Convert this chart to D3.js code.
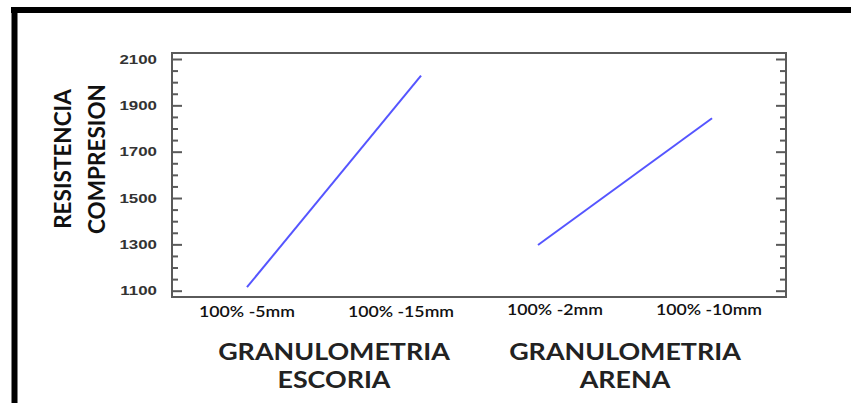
<!DOCTYPE html>
<html>
<head>
  <meta charset="utf-8">
  <script src="https://d3js.org/d3.v7.min.js"></script>
  <style>
    body { margin: 0; background: #fff; }
    svg { display: block; }
  </style>
</head>
<body>
  <svg id="chart"></svg>
  <script>
    // data
    var panels = ["ESCORIA", "ARENA"];
    var levels = ["100% -5mm", "100% -15mm", "100% -2mm", "100% -10mm"];
    var levelPanel = ["ESCORIA", "ESCORIA", "ARENA", "ARENA"];
    var resistencia = [1115, 2028, 1297, 1844];
    var yTicks = [1100, 1300, 1500, 1700, 1900, 2100];
    var yMinorStep = 50;

    var width = 851, height = 403;
    var frame = { left: 172, right: 786, top: 53, bottom: 297 };

    var svg = d3.select("#chart")
      .attr("width", width)
      .attr("height", height);

    // the source picture is stretched sideways, so widen the text to match
    function widen(sel, k) {
      sel.each(function() {
        var w = this.getComputedTextLength();
        d3.select(this)
          .attr("textLength", w * k)
          .attr("lengthAdjust", "spacingAndGlyphs");
      });
    }

    // outer black border (top and left only visible)
    svg.append("line")
      .attr("x1", 11).attr("x2", width + 5)
      .attr("y1", 10).attr("y2", 10)
      .attr("stroke", "#000").attr("stroke-width", 6);
    svg.append("line")
      .attr("x1", 14.5).attr("x2", 14.5)
      .attr("y1", 7).attr("y2", height + 5)
      .attr("stroke", "#000").attr("stroke-width", 6);

    var y = d3.scaleLinear()
      .domain([1100, 2100])
      .range([290.7, 59]);

    var xPanel = d3.scaleBand()
      .domain(panels)
      .range([188.5, 770.5]);

    var xLevel = d3.scalePoint()
      .domain([0, 1])
      .range([0, xPanel.bandwidth()])
      .padding(0.336);

    var xLabel = d3.scalePoint()
      .domain(levels)
      .range([247, 709]);

    // plot frame
    svg.append("rect")
      .attr("x", frame.left)
      .attr("y", frame.top)
      .attr("width", frame.right - frame.left)
      .attr("height", frame.bottom - frame.top)
      .attr("fill", "none")
      .attr("stroke", "#5a5a5a")
      .attr("stroke-width", 2);

    // inward ticks on left and right
    var minor = d3.range(1100, 2100 + 1, yMinorStep).filter(function(v) { return yTicks.indexOf(v) < 0; });
    var leftAxis = d3.axisRight(y).tickValues(yTicks).tickSize(10).tickFormat("");
    var leftMinor = d3.axisRight(y).tickValues(minor).tickSize(6).tickFormat("");
    var rightAxis = d3.axisLeft(y).tickValues(yTicks).tickSize(10).tickFormat("");
    var rightMinor = d3.axisLeft(y).tickValues(minor).tickSize(6).tickFormat("");

    [[leftAxis, frame.left], [leftMinor, frame.left], [rightAxis, frame.right], [rightMinor, frame.right]].forEach(function(a) {
      var g = svg.append("g")
        .attr("transform", "translate(" + a[1] + ",0)")
        .call(a[0]);
      g.select(".domain").remove();
      g.selectAll("line").attr("stroke", "#5a5a5a").attr("stroke-width", 2);
    });

    // y tick labels
    svg.append("g")
      .selectAll("text")
      .data(yTicks)
      .enter()
      .append("text")
      .attr("x", 157)
      .attr("y", function(d) { return y(d); })
      .attr("dy", "0.35em")
      .attr("text-anchor", "end")
      .style("font-family", "'Liberation Sans', Arial, sans-serif")
      .style("font-size", "13px")
      .style("font-weight", "bold")
      .attr("fill", "#333")
      .text(function(d) { return d; })
      .call(widen, 1.3);

    // lines per panel
    panels.forEach(function(p) {
      var vals = [];
      levels.forEach(function(l, i) { if (levelPanel[i] === p) vals.push(resistencia[i]); });
      var line = d3.line()
        .x(function(d, i) { return xPanel(p) + xLevel(i); })
        .y(function(d) { return y(d); });
      svg.append("path")
        .datum(vals)
        .attr("d", line)
        .attr("fill", "none")
        .attr("stroke", "#5555ff")
        .attr("stroke-width", 2);
    });

    // x level labels
    svg.append("g")
      .selectAll("text")
      .data(levels)
      .enter()
      .append("text")
      .attr("x", function(d) { return xLabel(d); })
      .attr("y", function(d, i) { return i < 2 ? 312 : 310; })
      .attr("dy", "0.35em")
      .attr("text-anchor", "middle")
      .style("font-family", "Lato, 'Open Sans', sans-serif")
      .style("font-size", "15px")
      .style("font-weight", "600")
      .attr("fill", "#111")
      .text(function(d) { return d; })
      .call(widen, 1.18);

    // panel titles
    panels.forEach(function(p) {
      var cx = xPanel(p) + xPanel.bandwidth() / 2;
      [["GRANULOMETRIA", 352], [p, 380]].forEach(function(t) {
        svg.append("text")
          .attr("x", cx)
          .attr("y", t[1])
          .attr("dy", "0.35em")
          .attr("text-anchor", "middle")
          .style("font-family", "Lato, 'Open Sans', sans-serif")
          .style("font-weight", "bold")
          .style("font-size", "22px")
          .attr("fill", "#222")
          .text(t[0])
          .call(widen, 1.22);
      });
    });

    // y title
    [["RESISTENCIA", 63], ["COMPRESION", 97]].forEach(function(t) {
      svg.append("text")
        .attr("transform", "translate(" + t[1] + ",159) rotate(-90)")
        .attr("dy", "0.35em")
        .attr("text-anchor", "middle")
        .style("font-family", "Lato, 'Open Sans', sans-serif")
        .style("font-weight", "bold")
        .style("font-size", "22.5px")
        .attr("fill", "#111")
        .text(t[0]);
    });
  </script>
</body>
</html>
